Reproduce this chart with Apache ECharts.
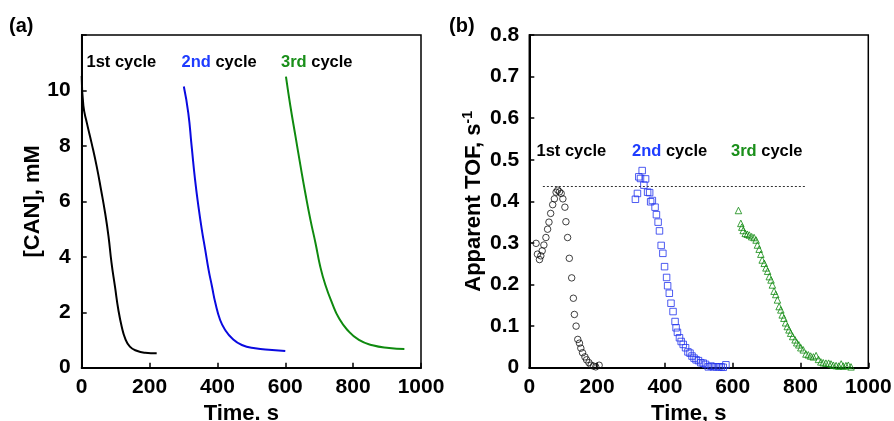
<!DOCTYPE html>
<html>
<head>
<meta charset="utf-8">
<script src="https://cdn.jsdelivr.net/npm/echarts@6/dist/echarts.min.js"></script>
<style>html,body{margin:0;padding:0;background:#fff}#c{width:894px;height:421px}</style>
</head>
<body>
<div id="c"></div>
<script>
// Panel (a): [CAN] vs time, three cycles
const timeA1 = [0, 5, 15, 29, 44, 57, 69, 79, 88, 98, 108, 118, 128, 142, 162, 187, 221];
const canA1  = [10.52, 9.44, 8.84, 8.11, 7.27, 6.42, 5.58, 4.74, 3.77, 2.93, 2.09, 1.48, 1.06, 0.76, 0.61, 0.54, 0.52];
const timeA2 = [301, 314, 324, 334, 344, 354, 364, 374, 384, 394, 408, 423, 443, 472, 511, 561, 600];
const canA2  = [10.14, 9.2, 7.99, 6.79, 5.82, 4.98, 4.26, 3.53, 2.93, 2.33, 1.72, 1.36, 1.06, 0.82, 0.70, 0.64, 0.60];
const timeA3 = [602, 615, 630, 645, 659, 674, 689, 703, 718, 738, 758, 783, 817, 857, 906, 951];
const canA3  = [10.5, 9.44, 8.35, 7.27, 6.30, 5.34, 4.50, 3.65, 2.99, 2.33, 1.79, 1.36, 1.00, 0.81, 0.71, 0.67];

// Panel (b): apparent TOF vs time
const timeB1 = [20, 24, 30, 34, 38, 43, 49, 54, 58, 63, 69, 74, 79, 84, 89, 94, 99, 105, 108, 113, 118, 125, 130, 133, 138, 143, 148, 152, 157, 164, 169, 176, 182, 189, 196, 206];
const tofB1  = [0.299, 0.273, 0.26, 0.269, 0.281, 0.295, 0.313, 0.333, 0.35, 0.371, 0.392, 0.406, 0.422, 0.427, 0.423, 0.419, 0.406, 0.386, 0.351, 0.313, 0.263, 0.216, 0.167, 0.128, 0.100, 0.068, 0.059, 0.047, 0.036, 0.026, 0.019, 0.012, 0.006, 0.004, 0.002, 0.006];
const timeB2 = [313, 319, 323, 328, 333, 338, 343, 349, 355, 358, 363, 371, 375, 380, 384, 389, 394, 399, 405, 408, 413, 418, 424, 430, 433, 437, 443, 448, 454, 461, 468, 474, 480, 486, 492, 499, 506, 513, 520, 528, 536, 543, 551, 559, 566, 572, 580];
const tofB2  = [0.405, 0.419, 0.459, 0.455, 0.474, 0.439, 0.454, 0.422, 0.421, 0.399, 0.402, 0.386, 0.368, 0.35, 0.329, 0.294, 0.275, 0.243, 0.217, 0.197, 0.179, 0.155, 0.135, 0.111, 0.096, 0.085, 0.072, 0.063, 0.056, 0.048, 0.038, 0.035, 0.028, 0.023, 0.019, 0.017, 0.012, 0.011, 0.008, 0.002, 0.004, 0.002, 0.002, 0.002, 0.002, 0.001, 0.007];
const timeB3 = [617, 624, 627, 631, 637, 643, 649, 656, 663, 669, 673, 678, 683, 687, 693, 698, 703, 708, 713, 717, 722, 727, 732, 737, 742, 746, 751, 756, 761, 766, 771, 777, 784, 789, 795, 801, 808, 816, 823, 830, 838, 846, 853, 860, 867, 875, 883, 890, 897, 905, 913, 920, 926, 934, 941, 949];
const tofB3  = [0.378, 0.347, 0.338, 0.33, 0.323, 0.321, 0.319, 0.315, 0.313, 0.307, 0.295, 0.285, 0.273, 0.259, 0.251, 0.240, 0.232, 0.219, 0.211, 0.199, 0.184, 0.176, 0.163, 0.147, 0.139, 0.127, 0.119, 0.108, 0.099, 0.091, 0.083, 0.075, 0.067, 0.060, 0.055, 0.048, 0.043, 0.033, 0.031, 0.028, 0.026, 0.029, 0.020, 0.014, 0.012, 0.011, 0.011, 0.009, 0.006, 0.005, 0.004, 0.009, 0.004, 0.005, 0.006, 0.002];
const refTOF = 0.437;
const refStart = 40, refEnd = 813;

const cycleLabels = ['1st', '2nd', '3rd'];
const BLACK = '#000', BLUE = '#0a0ae0', GREEN = '#0f8a0f';
const BLUE_T = '#1e3cff', GREEN_T = '#1a8f1a';
const SQ_BLUE = '#2233ee';

const zip = (xs, ys) => xs.map((x, i) => [x, ys[i]]);
const FONT = 'Liberation Sans, Arial, Helvetica, sans-serif';

const chart = echarts.init(document.getElementById('c'), null, {renderer: 'canvas'});

function xAxisCfg(gridIndex, name) {
  return {
    type: 'value', gridIndex, min: 0, max: 1000, interval: 200,
    name, nameLocation: 'middle', nameGap: 34,
    nameTextStyle: {fontFamily: FONT, fontWeight: 'bold', fontSize: 22, color: '#000', padding: [0, 20, 0, 0]},
    axisLine: {show: true, lineStyle: {color: '#000', width: 2}},
    axisTick: {show: true, inside: true, length: 5, lineStyle: {color: '#000', width: 1.5}},
    axisLabel: {fontFamily: FONT, fontWeight: 'bold', fontSize: 21, color: '#000', margin: 9,
      formatter: v => String(v)},
    splitLine: {show: false}
  };
}

const option = {
  animation: false,
  backgroundColor: '#fff',
  grid: [
    {left: 81.7, top: 35, width: 339.3, height: 332.7, show: true, borderColor: '#000', borderWidth: 1.5, outerBoundsMode: 'none', containLabel: false},
    {left: 529.3, top: 35, width: 339, height: 332.7, show: true, borderColor: '#000', borderWidth: 1.5, outerBoundsMode: 'none', containLabel: false}
  ],
  xAxis: [xAxisCfg(0, 'Time. s'), xAxisCfg(1, 'Time, s')],
  yAxis: [
    {
      type: 'value', gridIndex: 0, min: 0, max: 12, interval: 2,
      name: '[CAN], mM', nameLocation: 'middle', nameGap: 38,
      nameTextStyle: {fontFamily: FONT, fontWeight: 'bold', fontSize: 22, color: '#000'},
      axisLine: {show: true, lineStyle: {color: '#000', width: 2}},
      axisTick: {show: true, inside: true, length: 5, lineStyle: {color: '#000', width: 1.5}},
      axisLabel: {fontFamily: FONT, fontWeight: 'bold', fontSize: 21, color: '#000', margin: 11,
        formatter: v => (v === 12 ? '' : String(v))},
      splitLine: {show: false}
    },
    {
      type: 'value', gridIndex: 1, min: 0, max: 0.8, interval: 0.1,
      name: '{m|Apparent TOF, s}{s|-1}', nameLocation: 'middle', nameGap: 44,
      nameTextStyle: {fontFamily: FONT, fontWeight: 'bold', fontSize: 22, color: '#000',
        rich: {
          m: {fontFamily: FONT, fontWeight: 'bold', fontSize: 22, color: '#000', lineHeight: 24, verticalAlign: 'bottom'},
          s: {fontFamily: FONT, fontWeight: 'bold', fontSize: 14, color: '#000', lineHeight: 24, verticalAlign: 'top'}
        }},
      axisLine: {show: true, lineStyle: {color: '#000', width: 2}},
      axisTick: {show: true, inside: true, length: 5, lineStyle: {color: '#000', width: 1.5}},
      axisLabel: {fontFamily: FONT, fontWeight: 'bold', fontSize: 21, color: '#000', margin: 10,
        formatter: v => (v === 0 ? '0' : (Math.round(v * 10) / 10).toFixed(1))},
      splitLine: {show: false}
    }
  ],
  series: [
    {type: 'line', xAxisIndex: 0, yAxisIndex: 0, data: zip(timeA1, canA1), showSymbol: false, smooth: 0.5, lineStyle: {color: BLACK, width: 2}},
    {type: 'line', xAxisIndex: 0, yAxisIndex: 0, data: zip(timeA2, canA2), showSymbol: false, smooth: 0.5, lineStyle: {color: BLUE, width: 2}},
    {type: 'line', xAxisIndex: 0, yAxisIndex: 0, data: zip(timeA3, canA3), showSymbol: false, smooth: 0.5, lineStyle: {color: GREEN, width: 2}},
    {type: 'scatter', xAxisIndex: 1, yAxisIndex: 1, data: zip(timeB1, tofB1), symbol: 'circle', symbolSize: 6.5,
      itemStyle: {color: 'rgba(255,255,255,0)', borderColor: '#111', borderWidth: 1},
      markLine: {silent: true, symbol: 'none', label: {show: false},
        lineStyle: {color: '#333', type: [2, 2], width: 1},
        data: [[{coord: [refStart, refTOF]}, {coord: [refEnd, refTOF]}]]}},
    {type: 'scatter', xAxisIndex: 1, yAxisIndex: 1, data: zip(timeB2, tofB2), symbol: 'rect', symbolSize: 6.5,
      itemStyle: {color: 'rgba(255,255,255,0)', borderColor: SQ_BLUE, borderWidth: 1}},
    {type: 'scatter', xAxisIndex: 1, yAxisIndex: 1, data: zip(timeB3, tofB3), symbol: 'triangle', symbolSize: 6.5,
      itemStyle: {color: 'rgba(255,255,255,0)', borderColor: GREEN, borderWidth: 1}}
  ],
  graphic: [
    {type: 'text', left: 9, top: 16, style: {text: '(a)', font: 'bold 20px ' + FONT, fill: '#000'}},
    {type: 'text', left: 449, top: 16, style: {text: '(b)', font: 'bold 20px ' + FONT, fill: '#000'}}
  ]
};

function cycleText(x, y, idx) {
  const col = idx === 0 ? BLACK : (idx === 1 ? BLUE_T : GREEN_T);
  return {
    type: 'text', left: x, top: y,
    style: {
      text: '{a|' + cycleLabels[idx] + '}{b| cycle}',
      rich: {
        a: {font: 'bold 16.5px ' + FONT, fill: col},
        b: {font: 'bold 16.5px ' + FONT, fill: '#000'}
      }
    }
  };
}
option.graphic.push(cycleText(86.5, 54, 0), cycleText(181.5, 54, 1), cycleText(281, 54, 2));
option.graphic.push(cycleText(536.5, 143, 0), cycleText(632, 143, 1), cycleText(731, 143, 2));

chart.setOption(option);
</script>
</body>
</html>
